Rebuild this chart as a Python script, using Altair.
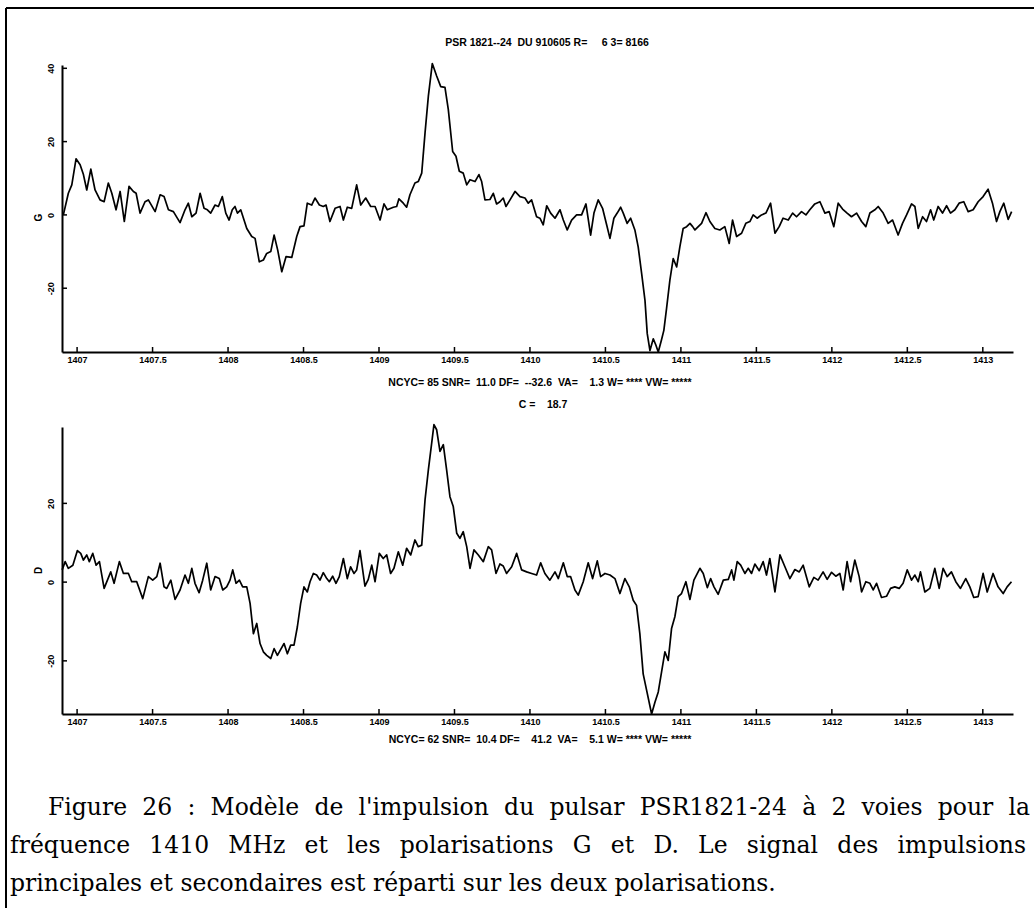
import altair as alt
import pandas as pd

# ---------------- data ----------------
top_freq = [
    1406.909, 1406.942, 1406.965, 1406.993, 1407.020, 1407.042, 1407.064, 1407.091, 1407.119, 1407.152,
    1407.179, 1407.207, 1407.230, 1407.258, 1407.285, 1407.313, 1407.344, 1407.373, 1407.391, 1407.417,
    1407.450, 1407.472, 1407.517, 1407.550, 1407.576, 1407.605, 1407.638, 1407.682, 1407.715, 1407.737,
    1407.760, 1407.788, 1407.815, 1407.841, 1407.863, 1407.885, 1407.914, 1407.936, 1407.962, 1407.985,
    1408.007, 1408.028, 1408.046, 1408.062, 1408.084, 1408.124, 1408.157, 1408.179, 1408.207, 1408.234,
    1408.256, 1408.283, 1408.305, 1408.329, 1408.356, 1408.384, 1408.422, 1408.455, 1408.477, 1408.503,
    1408.525, 1408.554, 1408.576, 1408.605, 1408.631, 1408.649, 1408.675, 1408.709, 1408.742, 1408.764,
    1408.790, 1408.819, 1408.852, 1408.879, 1408.912, 1408.945, 1408.974, 1409.007, 1409.033, 1409.055,
    1409.095, 1409.117, 1409.132, 1409.161, 1409.183, 1409.205, 1409.238, 1409.260, 1409.283, 1409.305,
    1409.327, 1409.353, 1409.382, 1409.409, 1409.437, 1409.459, 1409.488, 1409.510, 1409.532, 1409.558,
    1409.581, 1409.603, 1409.636, 1409.662, 1409.680, 1409.702, 1409.735, 1409.757, 1409.779, 1409.801,
    1409.823, 1409.841, 1409.868, 1409.901, 1409.934, 1409.967, 1409.989, 1410.011, 1410.044, 1410.066,
    1410.088, 1410.111, 1410.137, 1410.166, 1410.199, 1410.221, 1410.247, 1410.276, 1410.309, 1410.342,
    1410.371, 1410.402, 1410.424, 1410.452, 1410.481, 1410.508, 1410.530, 1410.556, 1410.578, 1410.601,
    1410.618, 1410.644, 1410.667, 1410.695, 1410.717, 1410.740, 1410.762, 1410.777, 1410.795, 1410.817,
    1410.834, 1410.850, 1410.872, 1410.887, 1410.905, 1410.927, 1410.949, 1410.972, 1410.993, 1411.015,
    1411.038, 1411.060, 1411.078, 1411.093, 1411.115, 1411.137, 1411.166, 1411.192, 1411.225, 1411.258,
    1411.291, 1411.320, 1411.342, 1411.369, 1411.402, 1411.430, 1411.457, 1411.479, 1411.505, 1411.534,
    1411.563, 1411.594, 1411.623, 1411.651, 1411.677, 1411.711, 1411.740, 1411.766, 1411.799, 1411.828,
    1411.854, 1411.887, 1411.921, 1411.954, 1411.982, 1412.013, 1412.042, 1412.071, 1412.101, 1412.130,
    1412.164, 1412.197, 1412.225, 1412.252, 1412.285, 1412.307, 1412.340, 1412.373, 1412.402, 1412.439,
    1412.468, 1412.495, 1412.528, 1412.550, 1412.572, 1412.601, 1412.627, 1412.654, 1412.675, 1412.704,
    1412.733, 1412.760, 1412.786, 1412.815, 1412.843, 1412.874, 1412.903, 1412.936, 1412.969, 1413.002,
    1413.035, 1413.064, 1413.091, 1413.113, 1413.139, 1413.168, 1413.191,
]
top_val = [
    0.0, 5.9, 8.2, 15.3, 13.7, 11.0, 6.8, 12.5, 6.8, 4.1,
    3.6, 8.7, 5.9, 1.4, 6.4, -1.8, 7.8, 6.4, 5.9, 0.5,
    3.6, 4.1, 0.9, 5.5, 5.0, 1.4, 0.9, -2.1, 1.4, 3.2,
    -0.5, 0.5, 5.9, 1.8, 1.4, 0.5, 2.7, 2.3, 5.0, 0.5,
    -1.4, 1.4, 2.3, 0.5, 1.4, -3.7, -5.9, -6.4, -12.8, -12.3,
    -10.5, -10.0, -5.5, -9.6, -15.5, -11.4, -11.6, -5.9, -3.2, -3.0,
    3.2, 2.7, 4.6, 2.7, 2.3, 2.7, -1.8, 1.8, 2.3, -1.4,
    2.1, 1.8, 8.2, 2.7, 4.6, 2.3, 2.3, -1.4, 3.0, 1.4,
    2.1, 2.3, 4.4, 3.2, 2.1, 5.5, 8.7, 9.1, 11.4, 22.4,
    32.4, 41.3, 37.9, 35.0, 34.8, 28.8, 17.3, 16.0, 11.9, 11.4,
    8.2, 9.6, 9.1, 11.0, 9.1, 4.1, 4.2, 5.9, 3.0, 3.6,
    4.6, 2.3, 4.1, 6.4, 5.0, 4.6, 3.2, 4.1, -0.5, -0.9,
    -2.7, 2.5, 0.5, -0.9, 1.4, -1.4, -4.1, -1.4, 0.0, 0.0,
    3.0, -5.5, 0.5, 4.1, 1.8, -2.7, -6.4, -0.9, 0.5, 2.1,
    0.5, -2.3, -0.9, -4.1, -8.7, -16.0, -23.3, -32.4, -37.0, -33.8,
    -35.5, -37.4, -34.0, -31.5, -25.5, -17.8, -11.9, -14.2, -8.7, -3.7,
    -3.2, -2.3, -3.2, -4.1, -3.2, -2.3, 0.6, -1.8, -3.7, -4.1,
    -3.2, -7.8, -1.4, -5.9, -5.0, -2.3, -1.8, 0.0, -0.9, 0.0,
    0.5, 3.2, -5.0, -3.2, -0.9, -1.4, 0.5, -0.5, 0.9, 0.0,
    1.4, 3.0, 3.6, 0.5, 0.9, -3.2, 3.2, 1.6, 0.5, -0.5,
    0.5, -1.8, -3.2, 0.5, 1.4, 2.3, 0.5, -2.3, -1.4, -5.5,
    -2.3, 0.0, 3.0, 2.3, -3.7, -0.5, -1.8, 1.4, -1.4, 2.3,
    0.5, 2.5, 0.5, 1.4, 3.2, 3.6, 0.9, 1.4, 3.6, 5.0,
    7.0, 3.2, -1.8, 0.9, 3.2, -1.2, 0.9,
]

bot_freq = [
    1406.901, 1406.921, 1406.942, 1406.972, 1407.002, 1407.024, 1407.042, 1407.064, 1407.081, 1407.104,
    1407.126, 1407.148, 1407.179, 1407.201, 1407.223, 1407.245, 1407.280, 1407.307, 1407.340, 1407.362,
    1407.395, 1407.435, 1407.472, 1407.501, 1407.528, 1407.550, 1407.576, 1407.594, 1407.621, 1407.649,
    1407.682, 1407.715, 1407.737, 1407.760, 1407.781, 1407.808, 1407.832, 1407.859, 1407.885, 1407.914,
    1407.942, 1407.965, 1407.991, 1408.013, 1408.031, 1408.053, 1408.075, 1408.097, 1408.124, 1408.146,
    1408.168, 1408.190, 1408.212, 1408.234, 1408.256, 1408.283, 1408.305, 1408.327, 1408.349, 1408.371,
    1408.393, 1408.415, 1408.437, 1408.459, 1408.481, 1408.503, 1408.525, 1408.543, 1408.565, 1408.587,
    1408.609, 1408.631, 1408.654, 1408.671, 1408.693, 1408.715, 1408.737, 1408.764, 1408.790, 1408.812,
    1408.834, 1408.852, 1408.874, 1408.907, 1408.929, 1408.952, 1408.974, 1409.002, 1409.028, 1409.051,
    1409.077, 1409.099, 1409.128, 1409.157, 1409.183, 1409.210, 1409.238, 1409.260, 1409.283, 1409.305,
    1409.327, 1409.349, 1409.364, 1409.382, 1409.404, 1409.426, 1409.448, 1409.470, 1409.492, 1409.515,
    1409.536, 1409.558, 1409.581, 1409.603, 1409.629, 1409.658, 1409.691, 1409.724, 1409.746, 1409.775,
    1409.801, 1409.823, 1409.845, 1409.879, 1409.912, 1409.945, 1409.978, 1410.011, 1410.044, 1410.071,
    1410.099, 1410.132, 1410.166, 1410.188, 1410.221, 1410.247, 1410.269, 1410.298, 1410.320, 1410.353,
    1410.386, 1410.415, 1410.446, 1410.468, 1410.497, 1410.530, 1410.563, 1410.596, 1410.629, 1410.658,
    1410.684, 1410.706, 1410.728, 1410.750, 1410.773, 1410.806, 1410.828, 1410.850, 1410.872, 1410.894,
    1410.916, 1410.938, 1410.960, 1410.982, 1411.004, 1411.033, 1411.060, 1411.086, 1411.126, 1411.148,
    1411.175, 1411.197, 1411.219, 1411.247, 1411.281, 1411.314, 1411.336, 1411.351, 1411.373, 1411.396,
    1411.424, 1411.446, 1411.468, 1411.490, 1411.519, 1411.545, 1411.567, 1411.589, 1411.623, 1411.656,
    1411.689, 1411.722, 1411.755, 1411.784, 1411.810, 1411.850, 1411.881, 1411.909, 1411.942, 1411.969,
    1411.998, 1412.026, 1412.053, 1412.075, 1412.101, 1412.124, 1412.152, 1412.181, 1412.197, 1412.225,
    1412.252, 1412.274, 1412.296, 1412.329, 1412.362, 1412.389, 1412.417, 1412.446, 1412.472, 1412.499,
    1412.528, 1412.550, 1412.572, 1412.587, 1412.616, 1412.649, 1412.682, 1412.711, 1412.737, 1412.764,
    1412.792, 1412.821, 1412.852, 1412.887, 1412.914, 1412.940, 1412.969, 1413.002, 1413.029, 1413.068,
    1413.101, 1413.135, 1413.161, 1413.190,
]
bot_val = [
    3.1, 5.2, 3.5, 4.3, 8.0, 7.3, 5.6, 6.9, 5.2, 7.3,
    4.3, 5.2, -1.6, 0.5, 2.6, -0.3, 5.2, 2.2, 2.2, 0.1,
    0.1, -4.2, 1.4, 0.5, 1.4, 4.8, -1.2, -1.6, 0.5, -4.4,
    -2.0, 1.8, -0.3, 3.5, -0.3, -2.7, 0.5, 4.8, -2.0, 1.4,
    0.9, -2.0, -1.2, 0.5, 3.1, -0.3, 0.5, -1.2, -1.2, -5.4,
    -13.1, -10.5, -15.6, -17.7, -18.6, -19.4, -16.9, -18.6, -17.1, -15.6,
    -18.2, -16.0, -16.0, -11.4, -5.4, -1.2, -2.5, 0.1, 2.2, 1.8,
    0.5, 2.4, 0.9, 0.1, 1.5, -0.3, 1.4, 6.0, 0.9, 3.9,
    2.2, 3.1, 8.0, -1.0, 0.7, 4.3, 0.1, 7.3, 6.0, 6.9,
    2.2, 3.5, 7.7, 4.3, 8.6, 6.9, 10.7, 9.0, 9.4, 20.9,
    28.5, 35.3, 40.0, 38.7, 33.2, 34.9, 28.5, 21.7, 19.2, 12.4,
    11.1, 12.8, 9.0, 3.5, 8.2, 6.9, 5.2, 9.0, 8.2, 2.2,
    4.6, 4.1, 2.2, 3.9, 7.3, 3.1, 2.6, 2.2, 1.8, 4.9,
    2.2, 0.5, 2.6, 0.9, 4.9, 1.4, 1.4, -2.0, -3.3, 0.1,
    4.9, 0.9, 5.4, 1.4, 2.2, 1.8, 0.9, -2.9, 0.9, -1.2,
    -4.6, -5.9, -13.1, -23.3, -27.5, -33.5, -30.5, -27.9, -22.8, -17.7,
    -19.9, -11.8, -8.8, -3.7, -2.9, 0.1, -4.4, 0.5, 3.5, 2.2,
    -1.4, 0.9, -1.2, -3.1, 0.5, 0.7, 3.1, 0.5, 5.2, 4.3,
    2.2, 3.5, 2.2, 4.6, 2.9, 5.2, 1.8, 6.0, -2.5, 6.9,
    3.9, 0.9, 3.2, 2.6, 4.3, -1.2, 1.2, 0.5, 2.6, 0.7,
    2.5, 1.5, 2.2, -2.0, 5.2, 0.1, 5.6, 1.4, -2.5, 0.1,
    -0.3, -2.0, -0.3, -3.9, -3.6, -1.6, -1.2, -1.6, -0.3, 3.1,
    0.5, 1.8, 0.1, 2.6, -2.5, -1.6, 3.5, -1.6, 3.5, 1.4,
    2.6, 0.1, -1.6, 0.9, -1.2, -3.9, -3.7, 2.2, -2.5, 2.2,
    -1.2, -2.9, -1.2, 0.1,
]

x_ticks = [1407, 1407.5, 1408, 1408.5, 1409, 1409.5, 1410, 1410.5, 1411, 1411.5, 1412, 1412.5, 1413]
top_y_ticks = [-20, 0, 20, 40]
bot_y_ticks = [-20, 0, 20]

NB = "\u00a0"
top_title = "PSR 1821--24  DU 910605 R=     6 3= 8166".replace(" ", NB)
top_footer = "NCYC= 85 SNR=  11.0 DF=  --32.6  VA=    1.3 W= **** VW= *****".replace(" ", NB)
mid_label = "C =    18.7".replace(" ", NB)
bot_footer = "NCYC= 62 SNR=  10.4 DF=    41.2  VA=    5.1 W= **** VW= *****".replace(" ", NB)
caption_lines = [
    "Figure 26 : Modèle de l'impulsion du pulsar PSR1821-24 à 2 voies pour la",
    "fréquence 1410 MHz et les polarisations G et D. Le signal des impulsions",
    "principales et secondaires est réparti sur les deux polarisations.",
]
# word gaps used to justify the first two caption lines (the last line is ragged)
caption_gaps = [" \u2004", " \u2002", " "]
CAPTION_SIZE = 23.5

# ---------------- layout ----------------
W, H = 1034, 908
X_LEFT, X_RIGHT = 62, 1013
TOP_Y0, TOP_Y1 = 352, 65
BOT_Y0, BOT_Y1 = 714, 427
SANS = "Liberation Sans"
SERIF = "DejaVu Serif"

x_scale = alt.Scale(domain=[1406.9, 1413.2], range=[X_LEFT, X_RIGHT], zero=False, nice=False)
top_y_scale = alt.Scale(domain=[-37.4, 40.9], range=[TOP_Y0, TOP_Y1], zero=False, nice=False)
bot_y_scale = alt.Scale(domain=[-33.5, 39.4], range=[BOT_Y0, BOT_Y1], zero=False, nice=False)


def x_axis(y_pos):
    return alt.Axis(values=x_ticks, format=".1~f", orient="bottom", offset=y_pos - H,
                    tickSize=0, grid=False, title=None, domainColor="black", domainWidth=2,
                    labelFont=SANS, labelFontSize=9, labelFontWeight="bold", labelColor="black",
                    labelPadding=3, labelFlush=False, labelOverlap=False)


def y_axis(ticks, title, title_y):
    return alt.Axis(values=ticks, orient="left", offset=-X_LEFT, tickSize=0, grid=False,
                    labelExpr="'' + datum.value", labelAngle=270, labelAlign="center",
                    labelBaseline="bottom", labelPadding=7, labelFont=SANS, labelFontSize=9,
                    labelFontWeight="bold", labelColor="black", domainColor="black", domainWidth=2,
                    title=title, titleAngle=270, titleX=-24, titleY=title_y, titleAlign="center",
                    titleBaseline="middle", titleFont=SANS, titleFontSize=10, titleFontWeight="bold",
                    titleColor="black")


def panel(freq, val, y_scale, y_ticks, y0, title, title_y):
    df = pd.DataFrame({"f": freq, "v": val})
    xa = x_axis(y0)
    ya = y_axis(y_ticks, title, title_y)
    line = alt.Chart(df).mark_line(color="black", strokeWidth=1.7, strokeJoin="round").encode(
        x=alt.X("f:Q", scale=x_scale, axis=xa),
        y=alt.Y("v:Q", scale=y_scale, axis=ya),
        order="f:Q",
    )
    xt = alt.Chart(pd.DataFrame({"f": x_ticks})).mark_rule(color="black", strokeWidth=1.5).encode(
        x=alt.X("f:Q", scale=x_scale, axis=xa),
        y=alt.value(y0),
        y2=alt.value(y0 - 5),
    )
    yt = alt.Chart(pd.DataFrame({"v": y_ticks})).mark_rule(color="black", strokeWidth=1.5).encode(
        y=alt.Y("v:Q", scale=y_scale, axis=ya),
        x=alt.value(X_LEFT),
        x2=alt.value(X_LEFT + 5),
    )
    return alt.layer(line, xt, yt)


top_panel = panel(top_freq, top_val, top_y_scale, top_y_ticks, TOP_Y0, "G", 217)
bot_panel = panel(bot_freq, bot_val, bot_y_scale, bot_y_ticks, BOT_Y0, "D", 570)


def small_text(txt, x, y):
    return alt.Chart(pd.DataFrame({"t": [txt]})).mark_text(
        font=SANS, fontSize=10.5, fontWeight="bold", color="black", align="center", baseline="middle"
    ).encode(text="t:N", x=alt.value(x), y=alt.value(y))


texts = [
    small_text(top_title, 547, 43),
    small_text(top_footer, 540, 383),
    small_text(mid_label, 543, 405),
    small_text(bot_footer, 540, 740),
]

cap_pos = [(48, 815), (10, 853), (10, 891)]
caption = []
for line_txt, gap, (cx, cy) in zip(caption_lines, caption_gaps, cap_pos):
    caption.append(
        alt.Chart(pd.DataFrame({"t": [line_txt.replace(" ", gap)]})).mark_text(
            font=SERIF, fontSize=CAPTION_SIZE, color="black", align="left", baseline="alphabetic"
        ).encode(text="t:N", x=alt.value(cx), y=alt.value(cy))
    )

frame_df = pd.DataFrame({"k": [0]})
frame_top = alt.Chart(frame_df).mark_rule(color="black", strokeWidth=2).encode(
    x=alt.value(6), x2=alt.value(W), y=alt.value(8)
)
frame_left = alt.Chart(frame_df).mark_rule(color="black", strokeWidth=2).encode(
    x=alt.value(6), y=alt.value(8), y2=alt.value(H)
)

chart = alt.layer(top_panel, bot_panel, *texts, *caption, frame_top, frame_left).resolve_scale(
    x="independent", y="independent"
).properties(
    width=W, height=H, padding=0, autosize=alt.AutoSizeParams(type="none"),
    background="white",
).configure_view(stroke=None)

chart.save("out.html", embed_options={"renderer": "svg", "actions": False})
